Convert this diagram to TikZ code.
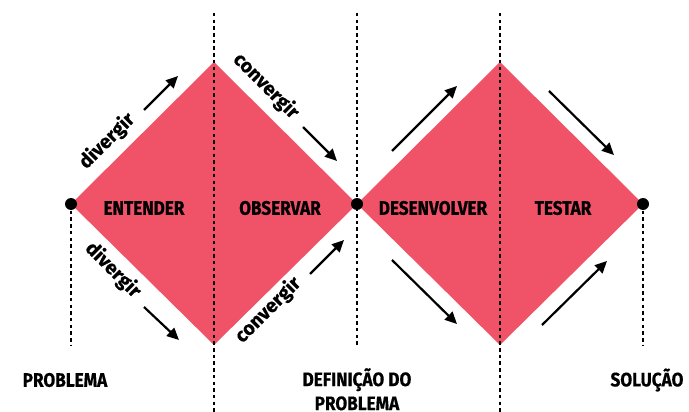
\documentclass[tikz,border=0pt]{standalone}
\usepackage{fontspec}
\setmainfont{Fira Sans}[BoldFont={Fira Sans Bold}, BoldFeatures={FakeBold=0.5}, FakeStretch=0.88]
\newfontfamily\hintfont{Fira Sans}[BoldFont={Fira Sans Bold}, BoldFeatures={FakeBold=0.5}]
\usepackage{xcolor}
\usepackage{tikz}
\usetikzlibrary{arrows.meta,positioning,calc}
\definecolor{diamondred}{HTML}{F05267}

\begin{document}
\begin{tikzpicture}[
  x=1pt, y=-1pt,
  phase/.style={font=\bfseries\fontsize{19.5}{22}\selectfont, inner sep=0pt},
  stage/.style={font=\bfseries\fontsize{19.5}{24}\selectfont, align=center, inner sep=0pt},
  hint/.style={font=\hintfont\bfseries\fontsize{19.5}{22}\selectfont, inner sep=0pt},
  guide/.style={line width=2.6pt, dash pattern=on 3.5pt off 3.2pt},
  arrow/.style={-{Triangle[length=12pt, width=11pt]}, line width=2.2pt},
  dot/.style={circle, fill=black, inner sep=0pt, minimum size=12pt}
]
\useasboundingbox (0,0) rectangle (689,412);

% diamond corners
\coordinate (start) at (71,204);
\coordinate (top1) at (214,62);
\coordinate (mid) at (357,204);
\coordinate (bot1) at (214,345);
\coordinate (top2) at (500,62);
\coordinate (finish) at (643,204);
\coordinate (bot2) at (500,345);

\fill[diamondred] (start) -- (top1) -- (mid) -- (bot1) -- cycle;
\fill[diamondred] (mid) -- (top2) -- (finish) -- (bot2) -- cycle;

% guide lines
\draw[guide] (214,13) -- (214,412);
\draw[guide] (500,13) -- (500,412);
\draw[guide] (357,13) -- (357,345);
\draw[guide] (start) -- (71,345);
\draw[guide] (finish) -- (643,345);

\node[dot] (d1) at (start) {};
\node[dot] (d2) at (mid) {};
\node[dot] (d3) at (finish) {};

% phases
\node[phase] (entender) at (144,208) {ENTENDER};
\node[phase] (observar) at (280,208) {OBSERVAR};
\node[phase] (desenvolver) at (433,208) {DESENVOLVER};
\node[phase] (testar) at (563,208) {TESTAR};

% hints along the edges
\node[hint, rotate=45] (div1) at (107,141) {divergir};
\node[hint, rotate=-45] (conv1) at (266,86) {convergir};
\node[hint, rotate=-45] (div2) at (113,270) {divergir};
\node[hint, rotate=45] (conv2) at (268,310) {convergir};

% arrow ends
\coordinate (a1s) at (144,110); \coordinate (a1e) at (178,76);
\coordinate (a2s) at (303,127); \coordinate (a2e) at (337,161);
\coordinate (a3s) at (144,307); \coordinate (a3e) at (179,340);
\coordinate (a4s) at (310,274); \coordinate (a4e) at (344,240);
\coordinate (a5s) at (392,151); \coordinate (a5e) at (457,86);
\coordinate (a6s) at (549,91); \coordinate (a6e) at (614,155);
\coordinate (a7s) at (392,260); \coordinate (a7e) at (457,324);
\coordinate (a8s) at (542,325); \coordinate (a8e) at (607,261);

\draw[arrow] (a1s) -- (a1e);
\draw[arrow] (a2s) -- (a2e);
\draw[arrow] (a3s) -- (a3e);
\draw[arrow] (a4s) -- (a4e);
\draw[arrow] (a5s) -- (a5e);
\draw[arrow] (a6s) -- (a6e);
\draw[arrow] (a7s) -- (a7e);
\draw[arrow] (a8s) -- (a8e);

% milestones
\node[stage] (problema) at (65,380) {PROBLEMA};
\node[stage, anchor=north] (definicao) at (357,368) {DEFINIÇÃO DO\\PROBLEMA};
\node[stage] (solucao) at (647,380) {SOLUÇÃO};
\end{tikzpicture}
\end{document}
